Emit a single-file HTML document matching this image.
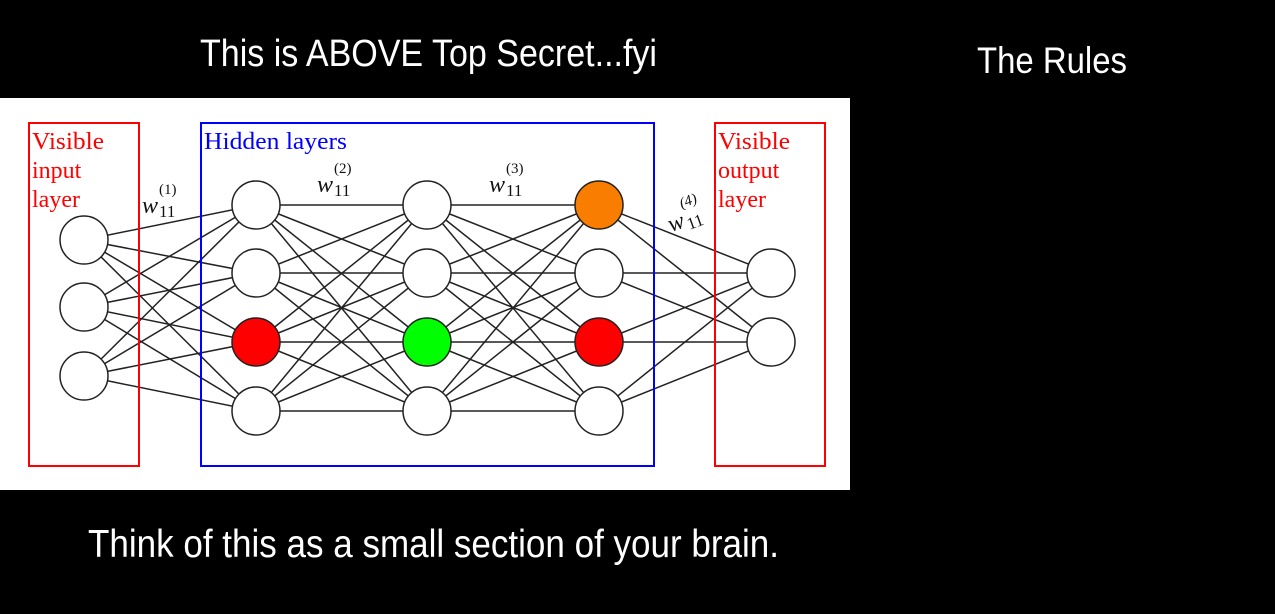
<!DOCTYPE html>
<html><head><meta charset="utf-8"><style>
html,body{margin:0;padding:0;background:#000;}
svg{display:block;}
</style></head><body>
<svg width="1275" height="614" viewBox="0 0 1275 614" xmlns="http://www.w3.org/2000/svg">
<rect x="0" y="0" width="1275" height="614" fill="#000"/>
<text x="200" y="66" fill="#fff" font-family="Liberation Sans, sans-serif" font-size="38" textLength="457" lengthAdjust="spacingAndGlyphs">This is ABOVE Top Secret...fyi</text>
<text x="977" y="73" fill="#fff" font-family="Liberation Sans, sans-serif" font-size="37" textLength="150" lengthAdjust="spacingAndGlyphs">The Rules</text>
<text x="88" y="557" fill="#fff" font-family="Liberation Sans, sans-serif" font-size="39" textLength="691" lengthAdjust="spacingAndGlyphs">Think of this as a small section of your brain.</text>
<rect x="0" y="98" width="850" height="392" fill="#fff"/>
<g stroke="#222" stroke-width="1.5">
<line x1="84" y1="240" x2="256" y2="205"/><line x1="84" y1="240" x2="256" y2="273"/><line x1="84" y1="240" x2="256" y2="342"/><line x1="84" y1="240" x2="256" y2="411"/>
<line x1="84" y1="307" x2="256" y2="205"/><line x1="84" y1="307" x2="256" y2="273"/><line x1="84" y1="307" x2="256" y2="342"/><line x1="84" y1="307" x2="256" y2="411"/>
<line x1="84" y1="376" x2="256" y2="205"/><line x1="84" y1="376" x2="256" y2="273"/><line x1="84" y1="376" x2="256" y2="342"/><line x1="84" y1="376" x2="256" y2="411"/>
<line x1="256" y1="205" x2="427" y2="205"/><line x1="256" y1="205" x2="427" y2="273"/><line x1="256" y1="205" x2="427" y2="342"/><line x1="256" y1="205" x2="427" y2="411"/>
<line x1="256" y1="273" x2="427" y2="205"/><line x1="256" y1="273" x2="427" y2="273"/><line x1="256" y1="273" x2="427" y2="342"/><line x1="256" y1="273" x2="427" y2="411"/>
<line x1="256" y1="342" x2="427" y2="205"/><line x1="256" y1="342" x2="427" y2="273"/><line x1="256" y1="342" x2="427" y2="342"/><line x1="256" y1="342" x2="427" y2="411"/>
<line x1="256" y1="411" x2="427" y2="205"/><line x1="256" y1="411" x2="427" y2="273"/><line x1="256" y1="411" x2="427" y2="342"/><line x1="256" y1="411" x2="427" y2="411"/>
<line x1="427" y1="205" x2="599" y2="205"/><line x1="427" y1="205" x2="599" y2="273"/><line x1="427" y1="205" x2="599" y2="342"/><line x1="427" y1="205" x2="599" y2="411"/>
<line x1="427" y1="273" x2="599" y2="205"/><line x1="427" y1="273" x2="599" y2="273"/><line x1="427" y1="273" x2="599" y2="342"/><line x1="427" y1="273" x2="599" y2="411"/>
<line x1="427" y1="342" x2="599" y2="205"/><line x1="427" y1="342" x2="599" y2="273"/><line x1="427" y1="342" x2="599" y2="342"/><line x1="427" y1="342" x2="599" y2="411"/>
<line x1="427" y1="411" x2="599" y2="205"/><line x1="427" y1="411" x2="599" y2="273"/><line x1="427" y1="411" x2="599" y2="342"/><line x1="427" y1="411" x2="599" y2="411"/>
<line x1="599" y1="205" x2="771" y2="273"/><line x1="599" y1="205" x2="771" y2="342"/>
<line x1="599" y1="273" x2="771" y2="273"/><line x1="599" y1="273" x2="771" y2="342"/>
<line x1="599" y1="342" x2="771" y2="273"/><line x1="599" y1="342" x2="771" y2="342"/>
<line x1="599" y1="411" x2="771" y2="273"/><line x1="599" y1="411" x2="771" y2="342"/>
</g>
<g fill="none" stroke-width="2">
<rect x="29" y="123" width="110" height="343" stroke="#f00"/>
<rect x="201" y="123" width="453" height="343" stroke="#00f"/>
<rect x="715" y="123" width="110" height="343" stroke="#f00"/>
</g>
<g stroke="#222" stroke-width="1.5">
<circle cx="84" cy="240" r="24" fill="#fff"/><circle cx="84" cy="307" r="24" fill="#fff"/><circle cx="84" cy="376" r="24" fill="#fff"/>
<circle cx="256" cy="205" r="24" fill="#fff"/><circle cx="256" cy="273" r="24" fill="#fff"/><circle cx="256" cy="342" r="24" fill="#f00"/><circle cx="256" cy="411" r="24" fill="#fff"/>
<circle cx="427" cy="205" r="24" fill="#fff"/><circle cx="427" cy="273" r="24" fill="#fff"/><circle cx="427" cy="342" r="24" fill="#0f0"/><circle cx="427" cy="411" r="24" fill="#fff"/>
<circle cx="599" cy="205" r="24" fill="#f97e00"/><circle cx="599" cy="273" r="24" fill="#fff"/><circle cx="599" cy="342" r="24" fill="#f00"/><circle cx="599" cy="411" r="24" fill="#fff"/>
<circle cx="771" cy="273" r="24" fill="#fff"/><circle cx="771" cy="342" r="24" fill="#fff"/>
</g>
<g font-family="Liberation Serif, serif" font-size="24" fill="#f00">
<text x="32" y="149" textLength="72" lengthAdjust="spacingAndGlyphs">Visible</text><text x="32" y="178">input</text><text x="32" y="207">layer</text>
<text x="718" y="149" textLength="72" lengthAdjust="spacingAndGlyphs">Visible</text><text x="718" y="178">output</text><text x="718" y="207">layer</text>
</g>
<text x="204" y="149" font-family="Liberation Serif, serif" font-size="24" fill="#00f" textLength="143" lengthAdjust="spacingAndGlyphs">Hidden layers</text>
<g font-family="Liberation Serif, serif" fill="#111">
<text x="142" y="213" font-size="24" font-style="italic">w</text><text x="159" y="194" font-size="15">(1)</text><text x="159" y="217" font-size="17">11</text>
<text x="317" y="192" font-size="24" font-style="italic">w</text><text x="334" y="173" font-size="15">(2)</text><text x="334" y="196" font-size="17">11</text>
<text x="489" y="192" font-size="24" font-style="italic">w</text><text x="506" y="173" font-size="15">(3)</text><text x="506" y="196" font-size="17">11</text>
<g transform="rotate(-20 690 220)"><text x="668" y="225" font-size="24" font-style="italic">w</text><text x="686" y="206" font-size="15" font-style="italic">(4)</text><text x="686" y="229" font-size="17">11</text></g>
</g>
</svg>
</body></html>
